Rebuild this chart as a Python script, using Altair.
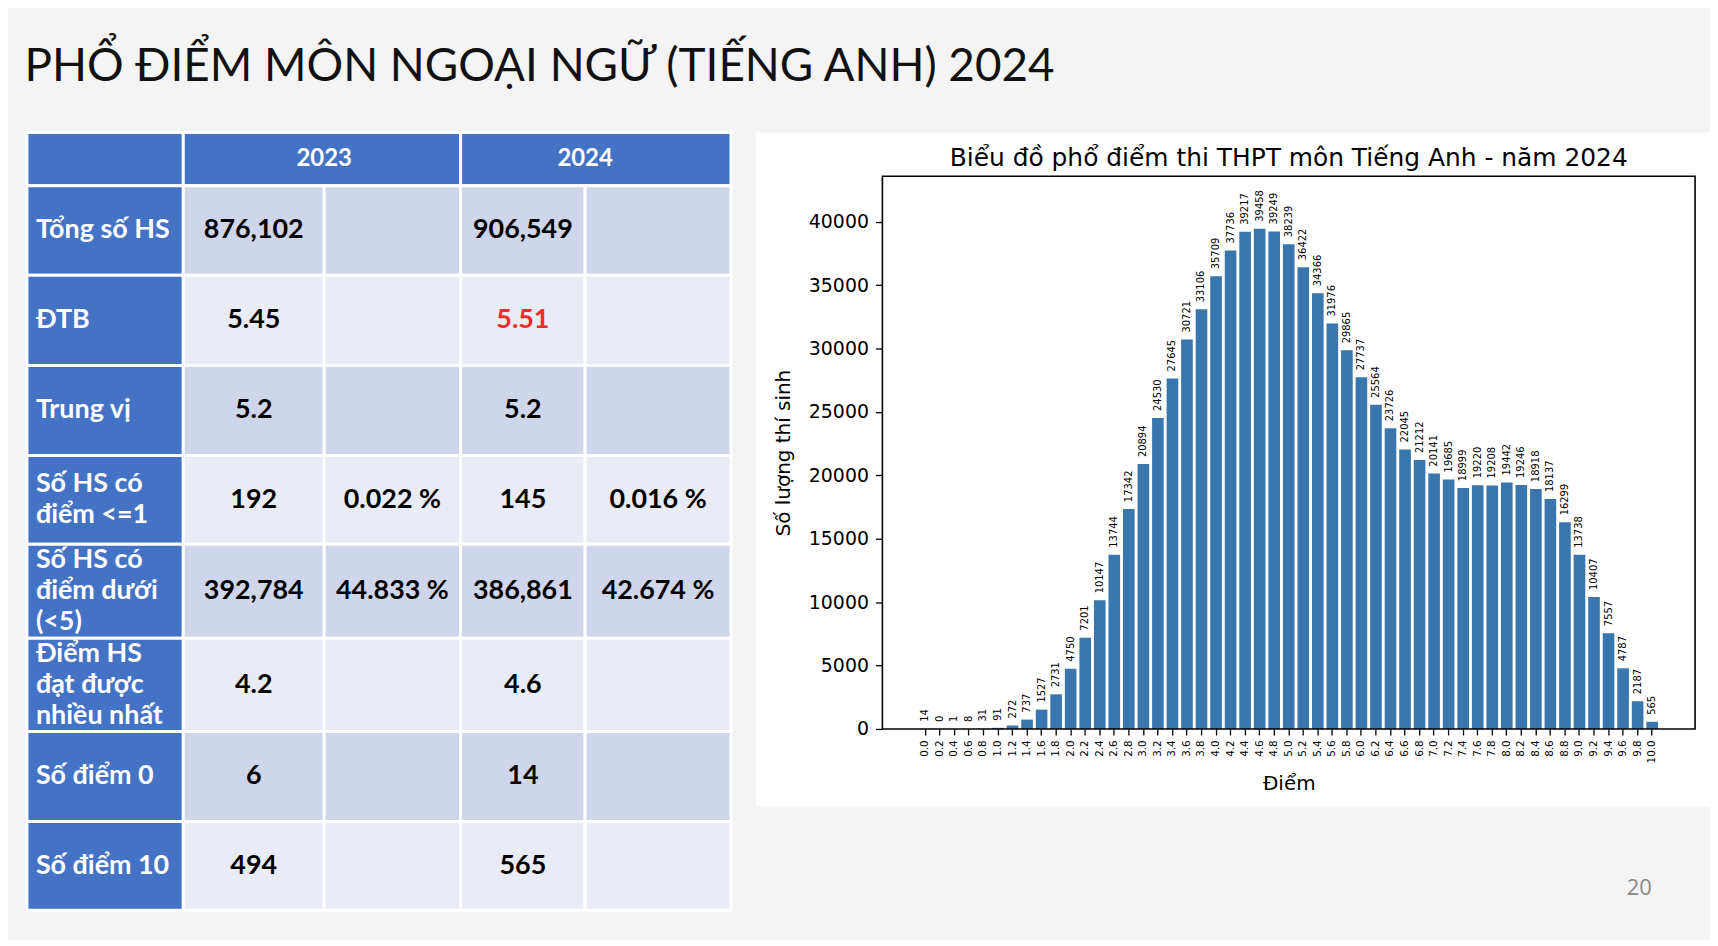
import altair as alt
import pandas as pd

# ---------------- text ----------------
page_title = "PHỔ ĐIỂM MÔN NGOẠI NGỮ (TIẾNG ANH) 2024"
page_number = "20"
chart_title = "Biểu đồ phổ điểm thi THPT môn Tiếng Anh - năm 2024"
x_title = "Điểm"
y_title = "Số lượng thí sinh"

# ---------------- table data ----------------
years = ["2023", "2024"]
row_labels = [
    "Tổng số HS",
    "ĐTB",
    "Trung vị",
    "Số HS có\nđiểm <=1",
    "Số HS có\nđiểm dưới\n(<5)",
    "Điểm HS\nđạt được\nnhiều nhất",
    "Số điểm 0",
    "Số điểm 10",
]
values_2023 = ["876,102", "5.45", "5.2", "192", "392,784", "4.2", "6", "494"]
percent_2023 = ["", "", "", "0.022 %", "44.833 %", "", "", ""]
values_2024 = ["906,549", "5.51", "5.2", "145", "386,861", "4.6", "14", "565"]
percent_2024 = ["", "", "", "0.016 %", "42.674 %", "", "", ""]
highlight_2024 = ["ĐTB"]

# ---------------- histogram data ----------------
scores = ["0.0", "0.2", "0.4", "0.6", "0.8", "1.0", "1.2", "1.4", "1.6", "1.8",
          "2.0", "2.2", "2.4", "2.6", "2.8", "3.0", "3.2", "3.4", "3.6", "3.8",
          "4.0", "4.2", "4.4", "4.6", "4.8", "5.0", "5.2", "5.4", "5.6", "5.8",
          "6.0", "6.2", "6.4", "6.6", "6.8", "7.0", "7.2", "7.4", "7.6", "7.8",
          "8.0", "8.2", "8.4", "8.6", "8.8", "9.0", "9.2", "9.4", "9.6", "9.8",
          "10.0"]
counts = [14, 0, 1, 8, 31, 91, 272, 737, 1527, 2731,
          4750, 7201, 10147, 13744, 17342, 20894, 24530, 27645, 30721, 33106,
          35709, 37736, 39217, 39458, 39249, 38239, 36422, 34366, 31976, 29865,
          27737, 25564, 23726, 22045, 21212, 20141, 19685, 18999, 19220, 19208,
          19442, 19246, 18918, 18137, 16299, 13738, 10407, 7557, 4787, 2187,
          565]
y_ticks = [0, 5000, 10000, 15000, 20000, 25000, 30000, 35000, 40000]

# ---------------- table chart ----------------
cells = [{"c0": 0, "c1": 1, "r0": 0, "r1": 1, "fill": "head", "text": "", "kind": "header", "nl": 1}]
for j, yr in enumerate(years):
    cells.append({"c0": 1 + 2 * j, "c1": 3 + 2 * j, "r0": 0, "r1": 1,
                  "fill": "head", "text": yr, "kind": "header", "nl": 1})
for i, lab in enumerate(row_labels):
    shade = "dark" if i % 2 == 0 else "light"
    cells.append({"c0": 0, "c1": 1, "r0": i + 1, "r1": i + 2,
                  "fill": "head", "text": lab, "kind": "label",
                  "nl": lab.count("\n") + 1})
    cols = [(values_2023[i], "value"), (percent_2023[i], "value"),
            (values_2024[i], "red" if lab in highlight_2024 else "value"),
            (percent_2024[i], "value")]
    for k, (t, kind) in enumerate(cols):
        cells.append({"c0": k + 1, "c1": k + 2, "r0": i + 1, "r1": i + 2,
                      "fill": shade, "text": t, "kind": kind, "nl": 1})
tdf = pd.DataFrame(cells)
tdf["xm"] = (tdf["c0"] + tdf["c1"]) / 2
tdf["ym"] = (tdf["r0"] + tdf["r1"]) / 2

TW, TH = 707, 737
LH = 31
tx = alt.Scale(domain=[0, 1, 2, 3, 4, 5], range=[0, 157, 298.5, 435.5, 560.5, 707],
               zero=False, nice=False)
ty = alt.Scale(domain=[0, 1, 2, 3, 4, 5, 6, 7, 8, 9],
               range=[-44, 9.5, 99.5, 190, 280.5, 369.5, 464, 557.5, 648, 737],
               zero=False, nice=False)

tbase = alt.Chart(tdf)
t_rect = tbase.mark_rect(stroke="white", strokeWidth=3).encode(
    x=alt.X("c0:Q", scale=tx, axis=None),
    x2="c1:Q",
    y=alt.Y("r0:Q", scale=ty, axis=None),
    y2="r1:Q",
    fill=alt.Fill("fill:N", scale=alt.Scale(domain=["head", "dark", "light"],
                                            range=["#4472c4", "#cfd5ea", "#e9ebf5"]),
                  legend=None),
)
label_layers = []
for n in (1, 2, 3):
    label_layers.append(
        tbase.transform_filter((alt.datum.kind == "label") & (alt.datum.nl == n)).mark_text(
            align="left", baseline="middle", dx=9, dy=-(n - 1) * LH / 2, font="Lato",
            fontWeight="bold", fontSize=27, lineBreak="\n", lineHeight=LH, color="white",
        ).encode(x="c0:Q", y="ym:Q", text="text:N")
    )
t_head = tbase.transform_filter(
    (alt.datum.kind == "header") & (alt.datum.text != "")
).mark_text(
    align="center", baseline="middle", font="Lato", fontWeight="bold",
    fontSize=24, color="white",
).encode(x="xm:Q", y="ym:Q", text="text:N")
t_vals = tbase.transform_filter(
    (alt.datum.kind == "value") | (alt.datum.kind == "red")
).mark_text(
    align="center", baseline="middle", font="Lato", fontWeight="bold", fontSize=27,
).encode(
    x="xm:Q", y="ym:Q", text="text:N",
    color=alt.Color("kind:N", scale=alt.Scale(domain=["value", "red"],
                                              range=["#000000", "#e8302a"]),
                    legend=None),
)
table = alt.layer(t_rect, *label_layers, t_head, t_vals).properties(width=TW, height=TH)

# ---------------- bar chart ----------------
BW, BH = 816, 555
bdf = pd.DataFrame({"score": scores, "count": counts})
xsc = alt.Scale(type="band", domain=scores, paddingInner=0.2, paddingOuter=0.4,
                range=[31.4, 784.6])
ysc = alt.Scale(domain=[0, 43600], nice=False, zero=True)

x_enc = alt.X("score:N", scale=xsc, sort=None, axis=alt.Axis(
    title=x_title, labelAngle=270, labelFont="DejaVu Sans", labelFontSize=10.4,
    labelColor="black", labelPadding=5, tickColor="black", tickSize=6, tickWidth=1.3,
    domain=False, titleFont="DejaVu Sans", titleFontSize=20, titleFontWeight="normal",
    titleColor="black", titlePadding=11, zindex=1))
y_enc = alt.Y("count:Q", scale=ysc, axis=alt.Axis(
    title=y_title, values=y_ticks, format="d", labelFont="DejaVu Sans", labelFontSize=19,
    labelColor="black", labelPadding=7, tickColor="black", tickSize=7, tickWidth=1.3,
    domain=False, grid=False, titleFont="DejaVu Sans", titleFontSize=20,
    titleFontWeight="normal", titleColor="black", titlePadding=15, zindex=1))

one = alt.Data(values=[{"k": 1}])
panel = alt.Chart(one).mark_rect(color="white").encode(
    x=alt.value(-127), x2=alt.value(831), y=alt.value(-44), y2=alt.value(633))
bars = alt.Chart(bdf).mark_bar(color="#3a76ae").encode(x=x_enc, y=y_enc)
bar_labels = alt.Chart(bdf).mark_text(
    angle=270, align="left", baseline="middle", dx=7, font="DejaVu Sans",
    fontSize=10, color="black",
).encode(x=alt.X("score:N", sort=None), y="count:Q", text="count:Q")
frame = alt.Chart(one).mark_rect(fillOpacity=0, stroke="black", strokeWidth=1.6).encode(
    x=alt.value(0), x2=alt.value(BW), y=alt.value(0), y2=alt.value(BH))
ctitle = alt.Chart(one).mark_text(
    align="center", baseline="alphabetic", font="DejaVu Sans", fontSize=25,
    color="black", text=chart_title,
).encode(x=alt.value(BW / 2), y=alt.value(-10))
pnum = alt.Chart(one).mark_text(
    align="center", baseline="alphabetic", font="Open Sans", fontSize=22,
    color="#888888", text=page_number,
).encode(x=alt.value(760), y=alt.value(722))

barchart = alt.layer(panel, bars, bar_labels, frame, ctitle, pnum).properties(
    width=BW, height=BH)

chart = alt.hconcat(table, barchart, spacing=23).properties(
    title=alt.TitleParams(page_title, anchor="start", font="Lato", fontSize=46,
                          fontWeight="normal", color="#111111", offset=40, dx=-1),
    padding={"left": 16, "top": 34, "right": 0, "bottom": 26},
    background="#f4f4f4",
).configure_view(strokeWidth=0)

chart.save("out.html", embed_options={"renderer": "svg", "actions": False})
